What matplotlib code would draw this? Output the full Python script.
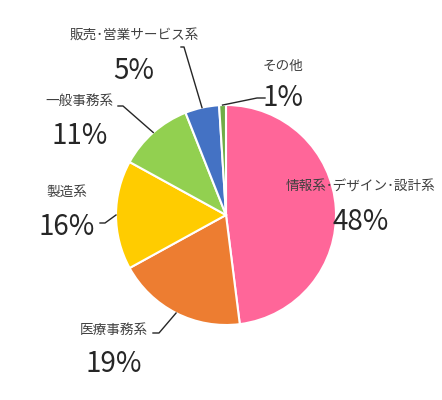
import numpy as np
import matplotlib
matplotlib.use("Agg")
import matplotlib.pyplot as plt

plt.rcParams['font.family'] = ['Noto Sans CJK JP', 'DejaVu Sans']

categories = ['情報系・デザイン・設計系', '医療事務系', '製造系', '一般事務系', '販売・営業サービス系', 'その他']
values = [48, 19, 16, 11, 5, 1]
colors = ['#FF6699', '#ED7D31', '#FFCC00', '#92D050', '#4472C4', '#70AD47']

# layout (pixel coords, y down): name label center, pct label center, leader elbow points
name_pos = [(361, 187), (114, 330), (67, 192), (79, 101), (134, 35), (283, 66)]
pct_pos = [(361, 222), (114, 364), (67, 227), (80, 136), (134, 71), (283, 98)]
elbows = [None, [(153, 333), (159, 333)], [(100, 223), (105, 223)],
          [(118, 106), (123, 106)], [(181, 47), (184, 47)], [(265, 98), (257, 98)]]

W, H = 442, 400
CX, CY, R = 226, 215, 110
NAME_FS = 9.8
PCT_FS = 20

fig = plt.figure(figsize=(W / 100, H / 100), dpi=100)
ax = fig.add_axes([0, 0, 1, 1])
ax.set_xlim(0, W)
ax.set_ylim(0, H)
ax.axis('off')

wedges, _ = ax.pie(values, colors=colors, startangle=90, counterclock=False,
                   center=(CX, H - CY), radius=R,
                   wedgeprops=dict(edgecolor='white', linewidth=1.5))
ax.set_xlim(0, W)
ax.set_ylim(0, H)
ax.set_aspect('equal')

for i, w in enumerate(wedges):
    nx, ny = name_pos[i]
    px, py = pct_pos[i]
    # narrow (half-width) middle dot, as in the reference rendering
    label = categories[i].replace('・', '･')
    ax.text(nx, H - ny, label, ha='center', va='center', fontsize=NAME_FS, color='#404040')
    ax.text(px, H - py, f'{values[i]}%', ha='center', va='center', fontsize=PCT_FS, color='#262626')
    if elbows[i] is not None:
        ang = np.deg2rad((w.theta1 + w.theta2) / 2)
        ex = CX + R * np.cos(ang)
        ey = (H - CY) + R * np.sin(ang)
        xs = [p[0] for p in elbows[i]] + [ex]
        ys = [H - p[1] for p in elbows[i]] + [ey]
        ax.plot(xs, ys, color='#262626', linewidth=1.0)

fig.savefig('out.png', dpi=100)
